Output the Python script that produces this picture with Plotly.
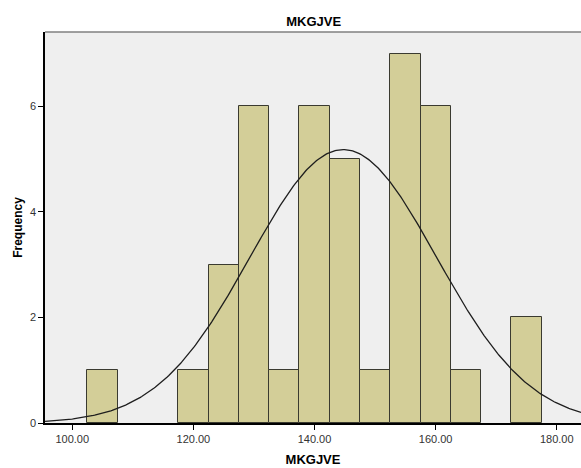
import numpy as np
import plotly.graph_objects as go

bin_mids = [105, 110, 115, 120, 125, 130, 135, 140, 145, 150, 155, 160, 165, 170, 175]
counts = [1, 0, 0, 1, 3, 6, 1, 6, 5, 1, 7, 6, 1, 0, 2]
bin_width = 5
mean_val = 144.75
sd_val = 15.4
n_total = sum(counts)
x_ticks = [100, 120, 140, 160, 180]
y_ticks = [0, 2, 4, 6]

xs = [m for m, c in zip(bin_mids, counts) if c > 0]
ys = [c for c in counts if c > 0]

xc = np.linspace(95.5, 184, 400)
yc = n_total * bin_width / (sd_val * np.sqrt(2 * np.pi)) * np.exp(-0.5 * ((xc - mean_val) / sd_val) ** 2)

fig = go.Figure()
fig.add_trace(go.Bar(x=xs, y=ys, width=bin_width,
                     marker=dict(color="#D3CE98", line=dict(color="#3a3a30", width=1)),
                     showlegend=False, hoverinfo="skip"))
fig.add_trace(go.Scatter(x=xc, y=yc, mode="lines",
                         line=dict(color="#1e1e1e", width=1.3), showlegend=False, hoverinfo="skip"))

font = "Liberation Sans, Arial, sans-serif"
fig.update_layout(
    width=581, height=468,
    margin=dict(l=45, r=0, t=32, b=45),
    paper_bgcolor="white", plot_bgcolor="#EFEFEF",
    font=dict(family=font, size=11, color="#333333"),
    title=dict(text="<b>MKGJVE</b>", x=0.54, xanchor="center", y=0.955, yanchor="middle",
               font=dict(family=font, size=13, color="black")),
    bargap=0,
    xaxis=dict(range=[95.5, 184], tickvals=x_ticks, ticktext=[f"{v:.2f}" for v in x_ticks],
               ticks="outside", ticklen=5, tickcolor="black", showgrid=False, zeroline=False,
               showline=True, linecolor="black", linewidth=1.5,
               title=dict(text="<b>MKGJVE</b>", font=dict(family=font, size=13, color="black"), standoff=11),
               tickfont=dict(size=11, color="#333333")),
    yaxis=dict(range=[0, 7.41], tickvals=y_ticks, ticks="outside", ticklen=5, tickcolor="black",
               showgrid=False, zeroline=False, showline=True, linecolor="black", linewidth=1.5,
               title=dict(text="<b>Frequency</b>", font=dict(family=font, size=12, color="black"), standoff=5),
               tickfont=dict(size=11, color="#333333")),
    shapes=[dict(type="line", xref="paper", yref="paper", x0=0, x1=1, y0=1, y1=1,
                 line=dict(color="#808080", width=1.5))],
)
fig.write_html("out.html")
